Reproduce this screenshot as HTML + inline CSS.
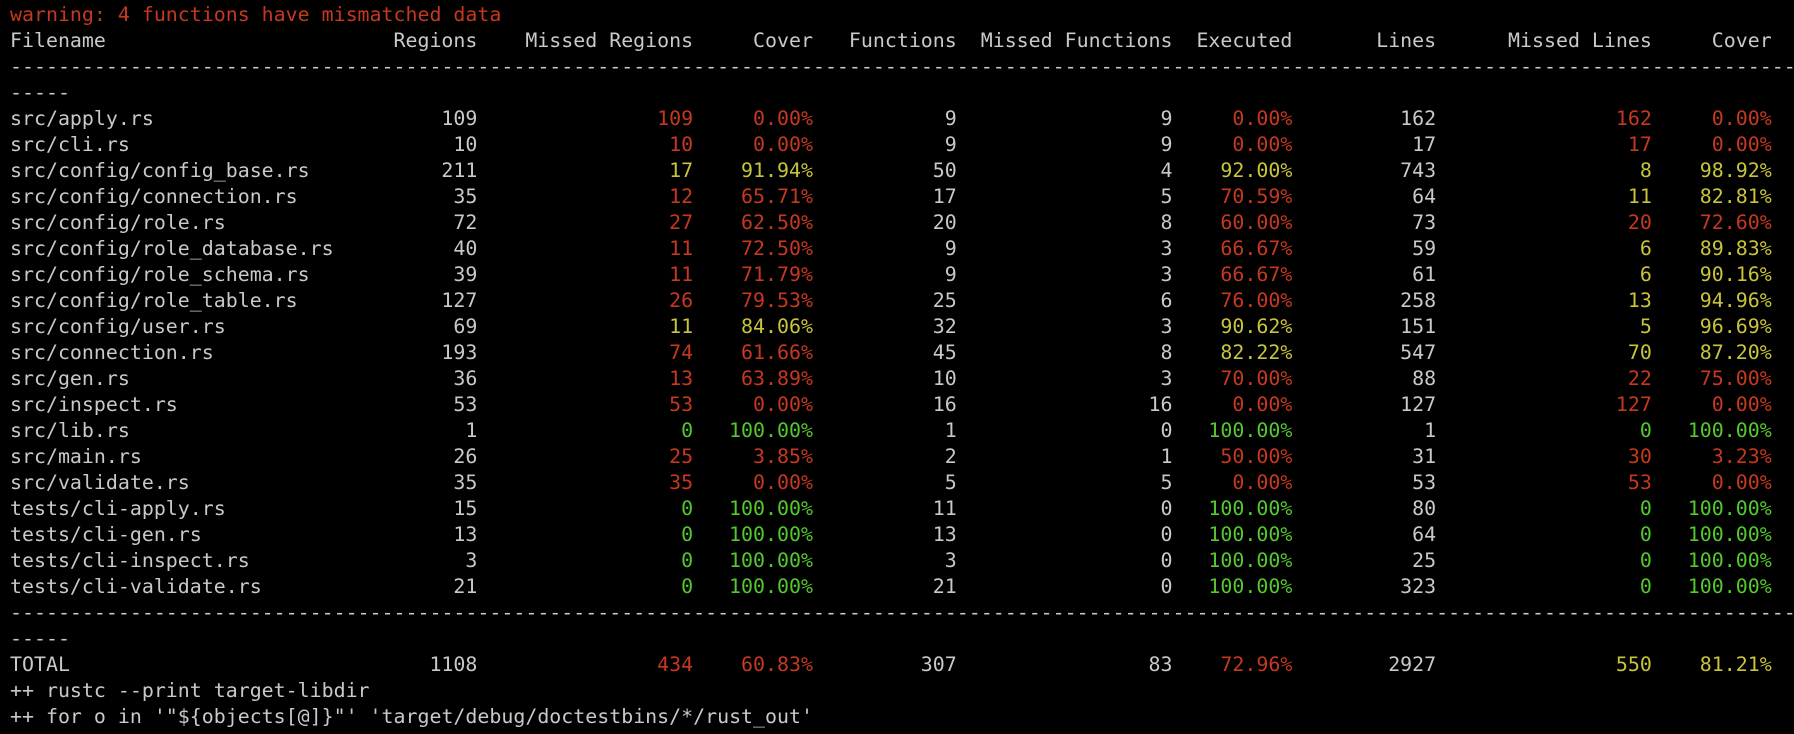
<!DOCTYPE html>
<html>
<head>
<meta charset="utf-8">
<style>
html,body{margin:0;padding:0;background:#000;}
body{width:1794px;height:734px;overflow:hidden;position:relative;}
.t{position:absolute;left:10px;top:2px;width:1784px;overflow:hidden;
   font-family:"DejaVu Sans Mono","Liberation Mono",monospace;font-size:19.92px;
   line-height:26px;color:#c9c9c9;white-space:normal;}
.l{display:block;height:26px;line-height:26px;white-space:pre;overflow:hidden;}
.c{display:inline-block;text-align:right;white-space:pre;}
.f{width:27ch;text-align:left;}
.a{width:12ch;}
.b{width:18ch;}
.d{width:10ch;}
.r{color:#c6381f;}
.y{color:#c8c53a;}
.g{color:#52c92c;}
</style>
</head>
<body>
<div class="t"><span class="l r">warning: 4 functions have mismatched data</span><span class="l"><span class="c f">Filename</span><span class="c a">Regions</span><span class="c b">Missed Regions</span><span class="c d">Cover</span><span class="c a">Functions</span><span class="c b">Missed Functions</span><span class="c d">Executed</span><span class="c a">Lines</span><span class="c b">Missed Lines</span><span class="c d">Cover</span></span><span class="l">------------------------------------------------------------------------------------------------------------------------------------------------------</span><span class="l">-----</span><span class="l"><span class="c f">src/apply.rs</span><span class="c a">109</span><span class="c b r">109</span><span class="c d r">0.00%</span><span class="c a">9</span><span class="c b">9</span><span class="c d r">0.00%</span><span class="c a">162</span><span class="c b r">162</span><span class="c d r">0.00%</span></span><span class="l"><span class="c f">src/cli.rs</span><span class="c a">10</span><span class="c b r">10</span><span class="c d r">0.00%</span><span class="c a">9</span><span class="c b">9</span><span class="c d r">0.00%</span><span class="c a">17</span><span class="c b r">17</span><span class="c d r">0.00%</span></span><span class="l"><span class="c f">src/config/config_base.rs</span><span class="c a">211</span><span class="c b y">17</span><span class="c d y">91.94%</span><span class="c a">50</span><span class="c b">4</span><span class="c d y">92.00%</span><span class="c a">743</span><span class="c b y">8</span><span class="c d y">98.92%</span></span><span class="l"><span class="c f">src/config/connection.rs</span><span class="c a">35</span><span class="c b r">12</span><span class="c d r">65.71%</span><span class="c a">17</span><span class="c b">5</span><span class="c d r">70.59%</span><span class="c a">64</span><span class="c b y">11</span><span class="c d y">82.81%</span></span><span class="l"><span class="c f">src/config/role.rs</span><span class="c a">72</span><span class="c b r">27</span><span class="c d r">62.50%</span><span class="c a">20</span><span class="c b">8</span><span class="c d r">60.00%</span><span class="c a">73</span><span class="c b r">20</span><span class="c d r">72.60%</span></span><span class="l"><span class="c f">src/config/role_database.rs</span><span class="c a">40</span><span class="c b r">11</span><span class="c d r">72.50%</span><span class="c a">9</span><span class="c b">3</span><span class="c d r">66.67%</span><span class="c a">59</span><span class="c b y">6</span><span class="c d y">89.83%</span></span><span class="l"><span class="c f">src/config/role_schema.rs</span><span class="c a">39</span><span class="c b r">11</span><span class="c d r">71.79%</span><span class="c a">9</span><span class="c b">3</span><span class="c d r">66.67%</span><span class="c a">61</span><span class="c b y">6</span><span class="c d y">90.16%</span></span><span class="l"><span class="c f">src/config/role_table.rs</span><span class="c a">127</span><span class="c b r">26</span><span class="c d r">79.53%</span><span class="c a">25</span><span class="c b">6</span><span class="c d r">76.00%</span><span class="c a">258</span><span class="c b y">13</span><span class="c d y">94.96%</span></span><span class="l"><span class="c f">src/config/user.rs</span><span class="c a">69</span><span class="c b y">11</span><span class="c d y">84.06%</span><span class="c a">32</span><span class="c b">3</span><span class="c d y">90.62%</span><span class="c a">151</span><span class="c b y">5</span><span class="c d y">96.69%</span></span><span class="l"><span class="c f">src/connection.rs</span><span class="c a">193</span><span class="c b r">74</span><span class="c d r">61.66%</span><span class="c a">45</span><span class="c b">8</span><span class="c d y">82.22%</span><span class="c a">547</span><span class="c b y">70</span><span class="c d y">87.20%</span></span><span class="l"><span class="c f">src/gen.rs</span><span class="c a">36</span><span class="c b r">13</span><span class="c d r">63.89%</span><span class="c a">10</span><span class="c b">3</span><span class="c d r">70.00%</span><span class="c a">88</span><span class="c b r">22</span><span class="c d r">75.00%</span></span><span class="l"><span class="c f">src/inspect.rs</span><span class="c a">53</span><span class="c b r">53</span><span class="c d r">0.00%</span><span class="c a">16</span><span class="c b">16</span><span class="c d r">0.00%</span><span class="c a">127</span><span class="c b r">127</span><span class="c d r">0.00%</span></span><span class="l"><span class="c f">src/lib.rs</span><span class="c a">1</span><span class="c b g">0</span><span class="c d g">100.00%</span><span class="c a">1</span><span class="c b">0</span><span class="c d g">100.00%</span><span class="c a">1</span><span class="c b g">0</span><span class="c d g">100.00%</span></span><span class="l"><span class="c f">src/main.rs</span><span class="c a">26</span><span class="c b r">25</span><span class="c d r">3.85%</span><span class="c a">2</span><span class="c b">1</span><span class="c d r">50.00%</span><span class="c a">31</span><span class="c b r">30</span><span class="c d r">3.23%</span></span><span class="l"><span class="c f">src/validate.rs</span><span class="c a">35</span><span class="c b r">35</span><span class="c d r">0.00%</span><span class="c a">5</span><span class="c b">5</span><span class="c d r">0.00%</span><span class="c a">53</span><span class="c b r">53</span><span class="c d r">0.00%</span></span><span class="l"><span class="c f">tests/cli-apply.rs</span><span class="c a">15</span><span class="c b g">0</span><span class="c d g">100.00%</span><span class="c a">11</span><span class="c b">0</span><span class="c d g">100.00%</span><span class="c a">80</span><span class="c b g">0</span><span class="c d g">100.00%</span></span><span class="l"><span class="c f">tests/cli-gen.rs</span><span class="c a">13</span><span class="c b g">0</span><span class="c d g">100.00%</span><span class="c a">13</span><span class="c b">0</span><span class="c d g">100.00%</span><span class="c a">64</span><span class="c b g">0</span><span class="c d g">100.00%</span></span><span class="l"><span class="c f">tests/cli-inspect.rs</span><span class="c a">3</span><span class="c b g">0</span><span class="c d g">100.00%</span><span class="c a">3</span><span class="c b">0</span><span class="c d g">100.00%</span><span class="c a">25</span><span class="c b g">0</span><span class="c d g">100.00%</span></span><span class="l"><span class="c f">tests/cli-validate.rs</span><span class="c a">21</span><span class="c b g">0</span><span class="c d g">100.00%</span><span class="c a">21</span><span class="c b">0</span><span class="c d g">100.00%</span><span class="c a">323</span><span class="c b g">0</span><span class="c d g">100.00%</span></span><span class="l">------------------------------------------------------------------------------------------------------------------------------------------------------</span><span class="l">-----</span><span class="l"><span class="c f">TOTAL</span><span class="c a">1108</span><span class="c b r">434</span><span class="c d r">60.83%</span><span class="c a">307</span><span class="c b">83</span><span class="c d r">72.96%</span><span class="c a">2927</span><span class="c b y">550</span><span class="c d y">81.21%</span></span><span class="l">++ rustc --print target-libdir</span><span class="l">++ for o in '"${objects[@]}"' 'target/debug/doctestbins/*/rust_out'</span></div>
</body>
</html>
